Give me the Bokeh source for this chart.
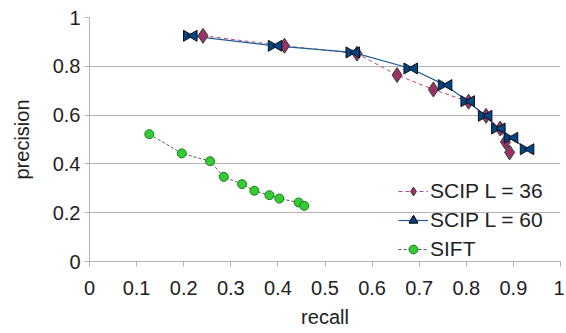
import math
from bokeh.plotting import figure
from bokeh.models import Range1d, FixedTicker, Legend, LegendItem, ColumnDataSource
from bokeh.transform import dodge
from bokeh.embed import file_html
from bokeh.resources import INLINE

# data
recall_36 = [0.241, 0.414, 0.568, 0.653, 0.730, 0.805, 0.842, 0.872, 0.883, 0.892]
precision_36 = [0.925, 0.884, 0.852, 0.764, 0.705, 0.655, 0.597, 0.545, 0.490, 0.447]
recall_60 = [0.214, 0.394, 0.559, 0.682, 0.755, 0.803, 0.840, 0.868, 0.895, 0.929]
precision_60 = [0.925, 0.884, 0.857, 0.791, 0.723, 0.657, 0.597, 0.545, 0.507, 0.460]
recall_sift = [0.127, 0.196, 0.256, 0.285, 0.324, 0.350, 0.382, 0.403, 0.444, 0.456]
precision_sift = [0.522, 0.443, 0.411, 0.347, 0.317, 0.290, 0.272, 0.258, 0.242, 0.228]
x_ticks = [0, 0.1, 0.2, 0.3, 0.4, 0.5, 0.6, 0.7, 0.8, 0.9, 1]
y_ticks = [0, 0.2, 0.4, 0.6, 0.8, 1]
x_labels = {0: "0", 0.1: "0.1", 0.2: "0.2", 0.3: "0.3", 0.4: "0.4", 0.5: "0.5",
            0.6: "0.6", 0.7: "0.7", 0.8: "0.8", 0.9: "0.9", 1: "1"}
y_labels = {0: "0", 0.2: "0.2", 0.4: "0.4", 0.6: "0.6", 0.8: "0.8", 1: "1"}

FONT = "Liberation Sans"

p = figure(width=564, height=330, output_backend="svg", toolbar_location=None,
           x_range=Range1d(0, 1), y_range=Range1d(0, 1),
           min_border_left=89, min_border_right=4, min_border_top=17, min_border_bottom=66)
p.outline_line_color = None
p.background_fill_color = "white"

p.xgrid.grid_line_color = None
p.ygrid.grid_line_color = "#b3b3b3"
p.ygrid.grid_line_width = 1

for ax in (p.xaxis, p.yaxis):
    ax.axis_line_color = "#b3b3b3"
    ax.major_tick_line_color = "#b3b3b3"
    ax.minor_tick_line_color = None
    ax.major_tick_out = 5
    ax.major_tick_in = 0
    ax.major_label_text_font = FONT
    ax.major_label_text_font_size = "20px"
    ax.major_label_text_color = "#222222"
    ax.axis_label_text_font = FONT
    ax.axis_label_text_font_size = "20px"
    ax.axis_label_text_font_style = "normal"
    ax.axis_label_text_color = "#222222"

p.xaxis.ticker = FixedTicker(ticks=x_ticks)
p.yaxis.ticker = FixedTicker(ticks=y_ticks)
p.xaxis.major_label_overrides = x_labels
p.yaxis.major_label_overrides = y_labels
p.xaxis.axis_label = "recall"
p.yaxis.axis_label = "precision"
p.xaxis.major_label_standoff = 14
p.yaxis.major_label_standoff = 4
p.xaxis.axis_label_standoff = 8
p.yaxis.axis_label_standoff = 17

src36 = ColumnDataSource(dict(x=recall_36, y=precision_36))
src60 = ColumnDataSource(dict(x=recall_60, y=precision_60))
srcs = ColumnDataSource(dict(x=recall_sift, y=precision_sift))

# SCIP L = 36
l36 = p.line("x", "y", source=src36, line_color="#b84a7e", line_width=1, line_dash="4 3")
# SCIP L = 60
l60 = p.line("x", "y", source=src60, line_color="#1f5a9a", line_width=1.2)
# SIFT
ls = p.line("x", "y", source=srcs, line_color="#555577", line_width=1, line_dash="3 2")

m36 = p.scatter("x", "y", source=src36, marker="diamond", size=15,
                fill_color="#993366", line_color="#3a3a3a", line_width=1)

off = 3.6 / 471.0
tl = p.scatter(dodge("x", -off), "y", source=src60, marker="triangle", size=11,
               angle=-math.pi / 2, fill_color="#004586", line_color="#111111", line_width=1)
tr = p.scatter(dodge("x", off), "y", source=src60, marker="triangle", size=11,
               angle=math.pi / 2, fill_color="#004586", line_color="#111111", line_width=1)

ms = p.scatter("x", "y", source=srcs, marker="circle", size=9,
               fill_color="#33cc33", line_color="#1e7a1e", line_width=1)

legend = Legend(items=[
    LegendItem(label="SCIP L = 36", renderers=[l36, m36]),
    LegendItem(label="SCIP L = 60", renderers=[l60, tl, tr]),
    LegendItem(label="SIFT", renderers=[ls, ms]),
], location=(309, 0))
legend.background_fill_alpha = 0
legend.border_line_color = None
legend.label_text_font = FONT
legend.label_text_font_size = "21px"
legend.label_text_color = "#222222"
legend.glyph_width = 30
legend.glyph_height = 22
legend.label_height = 22
legend.spacing = 5
legend.padding = 2
legend.margin = 0
legend.label_standoff = 2
p.add_layout(legend)

open("out.html", "w").write(file_html(p, INLINE))
